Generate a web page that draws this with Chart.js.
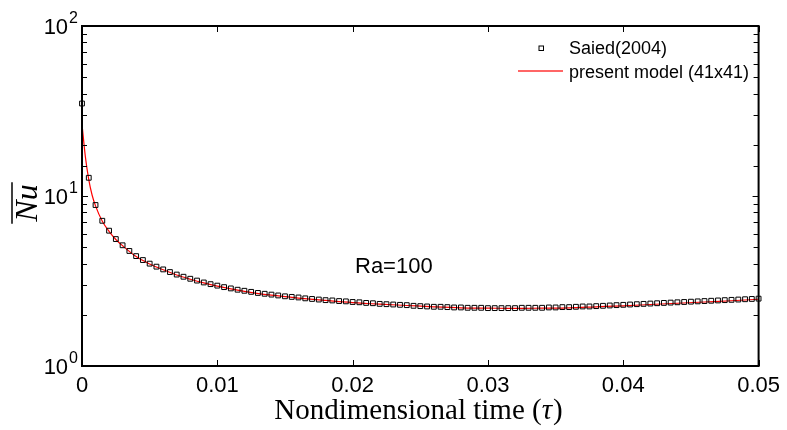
<!DOCTYPE html>
<html>
<head>
<meta charset="utf-8">
<script src="https://cdn.jsdelivr.net/npm/chart.js@4.4.1/dist/chart.umd.min.js"></script>
<style>
html, body { margin: 0; padding: 0; background: #fff; }
#wrap { width: 787px; height: 430px; }
</style>
</head>
<body>
<div id="wrap"><canvas id="myChart"></canvas></div>
<script>
// Saied (2004) reference points, every 0.0005
var saiedTau = [0, 0.0005, 0.001, 0.0015, 0.002, 0.0025, 0.003, 0.0035, 0.004, 0.0045,
    0.005, 0.0055, 0.006, 0.0065, 0.007, 0.0075, 0.008, 0.0085, 0.009, 0.0095,
    0.01, 0.0105, 0.011, 0.0115, 0.012, 0.0125, 0.013, 0.0135, 0.014, 0.0145,
    0.015, 0.0155, 0.016, 0.0165, 0.017, 0.0175, 0.018, 0.0185, 0.019, 0.0195,
    0.02, 0.0205, 0.021, 0.0215, 0.022, 0.0225, 0.023, 0.0235, 0.024, 0.0245,
    0.025, 0.0255, 0.026, 0.0265, 0.027, 0.0275, 0.028, 0.0285, 0.029, 0.0295,
    0.03, 0.0305, 0.031, 0.0315, 0.032, 0.0325, 0.033, 0.0335, 0.034, 0.0345,
    0.035, 0.0355, 0.036, 0.0365, 0.037, 0.0375, 0.038, 0.0385, 0.039, 0.0395,
    0.04, 0.0405, 0.041, 0.0415, 0.042, 0.0425, 0.043, 0.0435, 0.044, 0.0445,
    0.045, 0.0455, 0.046, 0.0465, 0.047, 0.0475, 0.048, 0.0485, 0.049, 0.0495,
    0.05];
var saiedNu = [35, 12.8, 8.85, 7.15, 6.25, 5.58, 5.13, 4.75, 4.43, 4.2,
    4.0, 3.84, 3.7, 3.57, 3.45, 3.35, 3.26, 3.18, 3.1, 3.03,
    2.97, 2.91, 2.86, 2.81, 2.77, 2.73, 2.69, 2.66, 2.63, 2.6,
    2.57, 2.55, 2.53, 2.5, 2.48, 2.46, 2.44, 2.43, 2.41, 2.4,
    2.38, 2.37, 2.35, 2.34, 2.32, 2.31, 2.3, 2.29, 2.28, 2.26,
    2.25, 2.24, 2.23, 2.23, 2.22, 2.21, 2.21, 2.2, 2.2, 2.2,
    2.19, 2.19, 2.19, 2.19, 2.19, 2.2, 2.2, 2.2, 2.2, 2.21,
    2.21, 2.22, 2.22, 2.23, 2.24, 2.24, 2.25, 2.26, 2.27, 2.28,
    2.29, 2.3, 2.31, 2.32, 2.33, 2.34, 2.35, 2.36, 2.37, 2.38,
    2.39, 2.4, 2.41, 2.42, 2.43, 2.44, 2.45, 2.46, 2.47, 2.48,
    2.49];

// present model (41x41)
var modelTau = [0, 0.00025, 0.0005, 0.00075, 0.001, 0.0015, 0.002, 0.0025, 0.003, 0.004,
    0.005, 0.006, 0.007, 0.008, 0.009, 0.01, 0.012, 0.014, 0.016, 0.018,
    0.02, 0.022, 0.024, 0.026, 0.028, 0.03, 0.032, 0.034, 0.036, 0.038,
    0.04, 0.042, 0.044, 0.046, 0.048, 0.05];
var modelNu = [26.5, 17.0, 12.5, 10.1, 8.75, 7.1, 6.2, 5.55, 5.1, 4.4,
    3.98, 3.68, 3.43, 3.24, 3.08, 2.95, 2.75, 2.61, 2.51, 2.43,
    2.36, 2.31, 2.27, 2.23, 2.2, 2.19, 2.18, 2.19, 2.2, 2.23,
    2.26, 2.3, 2.34, 2.38, 2.42, 2.47];

var xTickValues = [0, 0.01, 0.02, 0.03, 0.04, 0.05];
var xTickLabels = ['0', '0.01', '0.02', '0.03', '0.04', '0.05'];
var yTickValues = [1, 10, 100];
var yTickExp = ['0', '1', '2'];

var sans = "'Liberation Sans', Arial, sans-serif";
var serif = "'Liberation Serif', 'Times New Roman', serif";

function toPoints(xs, ys) {
    return xs.map(function(x, i) { return { x: x, y: ys[i] }; });
}

// frame, inward ticks, log labels, titles, legend, annotation
var decor = {
    id: 'decor',
    afterDraw: function(chart) {
        var ctx = chart.ctx;
        var a = chart.chartArea;
        var xs = chart.scales.x, ys = chart.scales.y;
        ctx.save();
        ctx.strokeStyle = '#000';
        ctx.fillStyle = '#000';
        ctx.lineWidth = 1;

        xs.ticks.forEach(function(t) {
            var px = Math.round(xs.getPixelForValue(t.value)) + 0.5;
            ctx.beginPath();
            ctx.moveTo(px, a.bottom); ctx.lineTo(px, a.bottom - 6);
            ctx.moveTo(px, a.top); ctx.lineTo(px, a.top + 6);
            ctx.stroke();
        });
        ys.ticks.forEach(function(t) {
            var py = Math.round(ys.getPixelForValue(t.value)) + 0.5;
            var len = yTickValues.indexOf(t.value) >= 0 ? 6 : 5;
            ctx.beginPath();
            ctx.moveTo(a.left, py); ctx.lineTo(a.left + len, py);
            ctx.moveTo(a.right, py); ctx.lineTo(a.right - len, py);
            ctx.stroke();
        });

        ctx.lineWidth = 2;
        ctx.strokeRect(a.left, a.top, a.right - a.left, a.bottom - a.top);

        // y labels 10^n
        yTickValues.forEach(function(v, i) {
            var py = ys.getPixelForValue(v);
            ctx.textAlign = 'right';
            ctx.textBaseline = 'alphabetic';
            ctx.font = '16px ' + sans;
            var ew = ctx.measureText(yTickExp[i]).width;
            ctx.fillText(yTickExp[i], a.left - 4, py - 3);
            ctx.font = '22px ' + sans;
            ctx.fillText('10', a.left - 5 - ew, py + 8);
        });

        // x title
        ctx.textBaseline = 'alphabetic';
        ctx.textAlign = 'left';
        var p1 = 'Nondimensional time (', p3 = ')';
        ctx.font = 'italic 29px ' + serif;
        var w2 = ctx.measureText('\u03c4').width;
        ctx.font = '29px ' + serif;
        var w1 = ctx.measureText(p1).width, w3 = ctx.measureText(p3).width;
        var x0 = 418 - (w1 + w2 + w3) / 2;
        ctx.fillText(p1, x0, 419);
        ctx.font = 'italic 29px ' + serif;
        ctx.fillText('\u03c4', x0 + w1, 419);
        ctx.font = '29px ' + serif;
        ctx.fillText(p3, x0 + w1 + w2 + 1, 419);

        // y title with overline
        ctx.save();
        ctx.translate(37, 203);
        ctx.rotate(-Math.PI / 2);
        ctx.font = 'italic 32px ' + serif;
        ctx.textAlign = 'center';
        var wt = ctx.measureText('Nu').width;
        ctx.fillText('Nu', 0, 0);
        ctx.lineWidth = 1.5;
        ctx.beginPath();
        ctx.moveTo(-wt / 2 - 2, -25); ctx.lineTo(wt / 2 + 2, -25);
        ctx.stroke();
        ctx.restore();

        // annotation
        ctx.font = '22px ' + sans;
        ctx.textAlign = 'left';
        ctx.fillText('Ra=100', 355, 273);

        // legend
        var ds = chart.data.datasets;
        ctx.font = '18px ' + sans;
        ctx.lineWidth = 1;
        ctx.strokeStyle = '#000';
        ctx.strokeRect(539, 46, 4.5, 4.5);
        ctx.fillText(ds[0].label, 569, 54);
        ctx.strokeStyle = '#ff3333';
        ctx.lineWidth = 1.5;
        ctx.beginPath();
        ctx.moveTo(518, 71); ctx.lineTo(563, 71);
        ctx.stroke();
        ctx.fillText(ds[1].label, 569, 78);
        ctx.restore();
    }
};

var ctx = document.getElementById('myChart');
var myChart = new Chart(ctx, {
    type: 'scatter',
    data: {
        datasets: [{
            label: 'Saied(2004)',
            data: toPoints(saiedTau, saiedNu),
            showLine: false,
            pointStyle: 'rect',
            pointRadius: 3.4,
            pointBorderWidth: 1,
            borderColor: '#000',
            backgroundColor: 'rgba(0,0,0,0)',
            clip: false
        }, {
            label: 'present model (41x41)',
            data: toPoints(modelTau, modelNu),
            showLine: true,
            pointRadius: 0,
            borderColor: '#ff0000',
            borderWidth: 1.2,
            cubicInterpolationMode: 'monotone',
            fill: false
        }]
    },
    options: {
        responsive: true,
        maintainAspectRatio: false,
        animation: false,
        layout: { padding: { top: 26, right: 25, left: 0, bottom: 0 } },
        plugins: { legend: { display: false }, tooltip: { enabled: false } },
        scales: {
            x: {
                type: 'linear',
                min: 0,
                max: 0.05,
                afterBuildTicks: function(s) {
                    s.ticks = xTickValues.map(function(v) { return { value: v }; });
                },
                afterFit: function(s) { s.height = 64; },
                ticks: {
                    callback: function(v, i) { return xTickLabels[i]; },
                    font: { family: sans, size: 22 },
                    color: '#000',
                    padding: 7,
                    maxRotation: 0,
                    autoSkip: false
                },
                grid: { display: false, drawTicks: false },
                border: { display: false }
            },
            y: {
                type: 'logarithmic',
                min: 1,
                max: 100,
                afterFit: function(s) { s.width = 82; },
                ticks: { display: false },
                grid: { display: false, drawTicks: false },
                border: { display: false }
            }
        }
    },
    plugins: [decor]
});
</script>
</body>
</html>
